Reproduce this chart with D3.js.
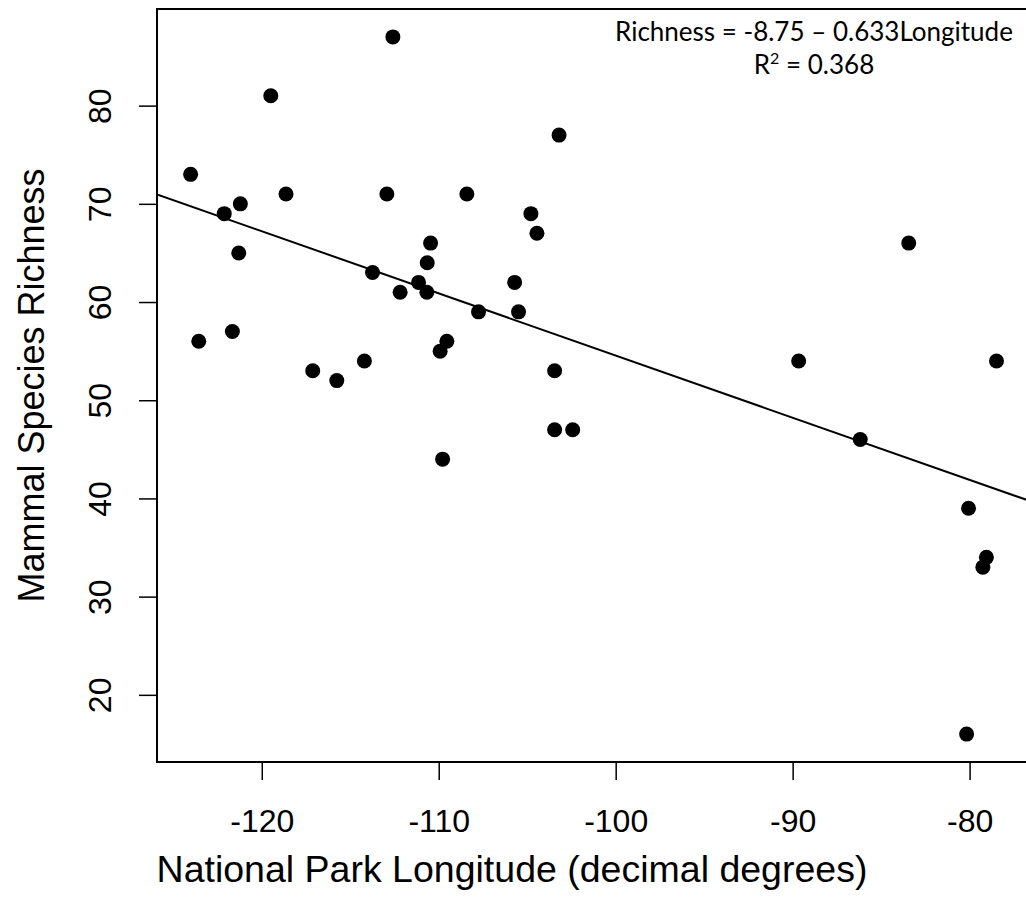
<!DOCTYPE html>
<html>
<head>
<meta charset="utf-8">
<script src="https://cdn.jsdelivr.net/npm/d3@7"></script>
<style>
    body { margin: 0; background: #fff; }
    svg { display: block; overflow: hidden; }
</style>
</head>
<body>
<div id="chart"></div>
<script>
// park longitude (decimal degrees) + mammal richness
const longitude = [
    -112.59, -119.49, -124.02, -118.63, -112.93, -121.21, -122.12, -121.30,
    -103.20, -108.41, -104.79, -104.45, -110.46, -110.65, -113.74, -112.18,
    -111.14, -121.66, -123.56, -114.20, -117.12, -115.76, -110.67, -105.71,
    -107.75, -105.49, -109.54, -109.92, -103.45, -103.45, -102.43, -109.78,
    -83.44, -78.48, -86.18, -89.66, -80.06, -79.05, -79.25, -80.17
];
const richness = [
    87, 81, 73, 71, 71, 70, 69, 65,
    77, 71, 69, 67, 66, 64, 63, 61,
    62, 57, 56, 54, 53, 52, 61, 62,
    59, 59, 56, 55, 53, 47, 47, 44,
    66, 54, 46, 54, 39, 34, 33, 16
];

const xTicks = [-120, -110, -100, -90, -80];
const yTicks = [20, 30, 40, 50, 60, 70, 80];

// axis limits (R style, data range + 4%)
const xLimits = [-125.92, -76.70];
const yLimits = [13.16, 89.84];

// fitted line
const fitIntercept = -8.75;
const fitSlope = -0.633;
const rSquared = 0.368;
const equationText = "Richness = -8.75 \u2013 0.633Longitude";

const xTitle = "National Park Longitude (decimal degrees)";
const yTitle = "Mammal Species Richness";

class ScatterPlot {
    constructor(parentElement) {
        this.parentElement = parentElement;
        this.data = longitude.map((lon, i) => ({ lon: lon, rich: richness[i] }));
        this.initVis();
    }

    initVis() {
        let vis = this;

        vis.margin = { top: 9, left: 157 };
        vis.width = 871;   // right edge runs a bit past the window
        vis.height = 753;

        vis.svg = d3.select("#" + vis.parentElement)
            .append("svg")
            .attr("width", 1026)
            .attr("height", 920);

        vis.g = vis.svg.append("g")
            .attr("transform", `translate(${vis.margin.left}, ${vis.margin.top})`);

        vis.x = d3.scaleLinear().domain(xLimits).range([0, vis.width]);
        vis.y = d3.scaleLinear().domain(yLimits).range([vis.height, 0]);

        vis.g.append("clipPath").attr("id", "plot-clip")
            .append("rect")
            .attr("width", vis.width)
            .attr("height", vis.height);

        vis.updateVis();
    }

    updateVis() {
        let vis = this;
        const axisFont = "'Liberation Sans', Arial, Helvetica, sans-serif";
        const plainNum = d => String(d); // keep the ascii hyphen, not d3's minus sign

        // x axis
        let xAxis = vis.g.append("g")
            .attr("transform", `translate(0, ${vis.height})`)
            .call(d3.axisBottom(vis.x).tickValues(xTicks).tickSize(18).tickPadding(29).tickFormat(plainNum));
        xAxis.select(".domain").remove();
        xAxis.selectAll("line").attr("stroke", "#000").attr("stroke-width", 1.5);
        xAxis.selectAll("text")
            .style("font-family", axisFont)
            .style("font-size", "32px")
            .attr("fill", "#000");

        // y axis - labels turned like R does
        let yAxis = vis.g.append("g")
            .call(d3.axisLeft(vis.y).tickValues(yTicks).tickSize(18).tickFormat(plainNum));
        yAxis.select(".domain").remove();
        yAxis.selectAll("line").attr("stroke", "#000").attr("stroke-width", 1.5);
        yAxis.selectAll("text")
            .attr("x", null)
            .attr("dy", null)
            .attr("text-anchor", "middle")
            .attr("transform", "translate(-46, 0) rotate(-90)")
            .style("font-family", axisFont)
            .style("font-size", "32px")
            .attr("fill", "#000");

        // regression line
        vis.g.append("line")
            .attr("clip-path", "url(#plot-clip)")
            .attr("x1", vis.x(xLimits[0]))
            .attr("y1", vis.y(fitIntercept + fitSlope * xLimits[0]))
            .attr("x2", vis.x(xLimits[1]))
            .attr("y2", vis.y(fitIntercept + fitSlope * xLimits[1]))
            .attr("stroke", "#000")
            .attr("stroke-width", 2);

        // points
        vis.g.selectAll(".pt")
            .data(vis.data)
            .enter()
            .append("circle")
            .attr("class", "pt")
            .attr("cx", d => vis.x(d.lon))
            .attr("cy", d => vis.y(d.rich))
            .attr("r", 7.5)
            .attr("fill", "#000");

        // box
        vis.g.append("rect")
            .attr("width", vis.width)
            .attr("height", vis.height)
            .attr("fill", "none")
            .attr("stroke", "#000")
            .attr("stroke-width", 2);

        // axis titles
        vis.svg.append("text")
            .attr("x", 512)
            .attr("y", 882)
            .attr("text-anchor", "middle")
            .style("font-family", axisFont)
            .style("font-size", "37.5px")
            .text(xTitle);

        vis.svg.append("text")
            .attr("transform", `translate(44, ${vis.margin.top + vis.height / 2}) rotate(-90)`)
            .attr("text-anchor", "middle")
            .style("font-family", axisFont)
            .style("font-size", "36px")
            .text(yTitle);

        // equation text, top right
        let eq = vis.svg.append("g")
            .style("font-family", "Lato, 'Open Sans', sans-serif")
            .style("font-size", "26px")
            .attr("text-anchor", "middle");

        eq.append("text")
            .attr("x", 814)
            .attr("y", 41)
            .text(equationText);

        let r2 = eq.append("text")
            .attr("x", 814)
            .attr("y", 74);
        r2.append("tspan").text("R");
        r2.append("tspan").attr("dy", -10).style("font-size", "16px").text("2");
        r2.append("tspan").attr("dy", 10).text(" = " + rSquared);
    }
}

let scatter = new ScatterPlot("chart");
</script>
</body>
</html>
